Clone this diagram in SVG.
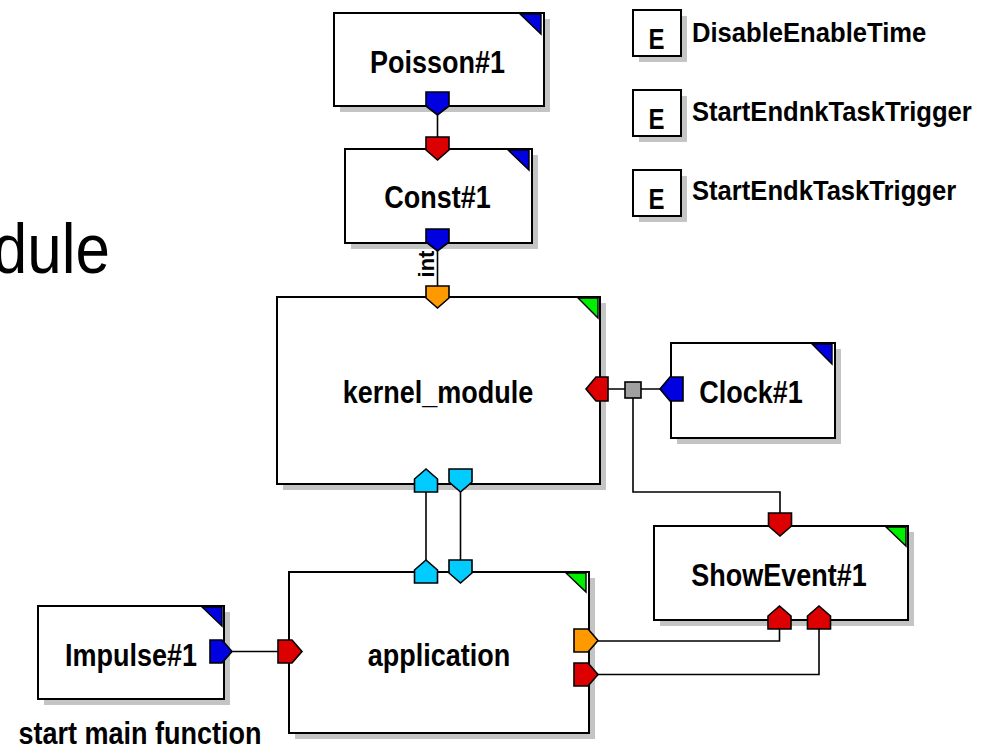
<svg xmlns="http://www.w3.org/2000/svg" width="1005" height="749" viewBox="0 0 1005 749">
<style>
.bg{fill:#fff}
.shadow{fill:#c4c4c4}
.box{fill:#fff;stroke:#000;stroke-width:2}
.wire{fill:none;stroke:#000;stroke-width:1.6}
.port{stroke:#000;stroke-width:1.6;stroke-linejoin:miter}
.tri{stroke:#000;stroke-width:1.4;stroke-linejoin:miter}
.blue{fill:#0000e0}
.red{fill:#dd0000}
.orange{fill:#ff9900}
.cyan{fill:#00ccff}
.green{fill:#00ee00}
.junc{fill:#a0a0a0;stroke:#000;stroke-width:1.6}
.lbl{font-family:"Liberation Sans",Arial,sans-serif;font-weight:bold;font-size:27px;text-anchor:middle;fill:#000}
.elbl{font-family:"Liberation Sans",Arial,sans-serif;font-weight:bold;font-size:25.6px;fill:#000}
.eletter{font-family:"Liberation Sans",Arial,sans-serif;font-weight:bold;font-size:24px;text-anchor:middle;fill:#000}
.big{font-family:"Liberation Sans",Arial,sans-serif;font-size:62px;fill:#000}
</style>
<rect class="bg" x="0" y="0" width="1005" height="749"/>
<text class="big" x="110" y="0" text-anchor="end" transform="translate(0,273) scale(1,1.15)">dule</text>

<g id="connectors">
<path class="wire" d="M437.5,115 V137"/>
<path class="wire" d="M437.5,251 V286"/>
<path class="wire" d="M426,492 V560"/>
<path class="wire" d="M460.5,492 V560"/>
<path class="wire" d="M608,389 H660"/>
<path class="wire" d="M633,398 V492 H780 V513"/>
<path class="wire" d="M779.5,629 V641 H598"/>
<path class="wire" d="M819,629 V674.5 H598"/>
<path class="wire" d="M232,651.5 H278"/>
<rect id="junction" class="junc" x="625" y="382" width="16" height="16"/>
<text class="lbl" transform="translate(434,264) rotate(-90)" style="font-size:22px">int</text>
</g>

<g id="poisson">
<rect class="shadow" x="340" y="19" width="210" height="93"/>
<rect class="box" x="334" y="13" width="210" height="93"/>
<polygon class="tri blue" points="520,14 541,14 541,34"/>
<path class="port blue" d="M426,92 h23 v14 l-11.5,9 l-11.5,-9 z"/>
<text class="lbl" transform="translate(437.5,73) scale(1,1.15)">Poisson#1</text>
</g>

<g id="const">
<rect class="shadow" x="351" y="155" width="187" height="94"/>
<rect class="box" x="345" y="149" width="187" height="94"/>
<polygon class="tri blue" points="508,150 529,150 529,170"/>
<path class="port red" d="M426,137 h23 v13 l-11.5,10 l-11.5,-10 z"/>
<path class="port blue" d="M426,229 h23 v13 l-11.5,9 l-11.5,-9 z"/>
<text class="lbl" transform="translate(437.5,208) scale(1,1.15)">Const#1</text>
</g>

<g id="kernel_module">
<rect class="shadow" x="283" y="303" width="323" height="187"/>
<rect class="box" x="277" y="297" width="323" height="187"/>
<polygon class="tri green" points="578,298 598,298 598,318"/>
<path class="port orange" d="M426,286 h23 v12 l-11.5,10 l-11.5,-10 z"/>
<path class="port cyan" d="M414.5,492 h23 v-13 l-11.5,-10 l-11.5,10 z"/>
<path class="port cyan" d="M449,469 h23 v13 l-11.5,10 l-11.5,-10 z"/>
<path class="port red" d="M586,389 l10,-12 h12 v24 h-12 z"/>
<text class="lbl" transform="translate(438,403) scale(1,1.15)">kernel_module</text>
</g>

<g id="clock">
<rect class="shadow" x="677" y="349" width="164" height="95"/>
<rect class="box" x="671" y="343" width="164" height="95"/>
<polygon class="tri blue" points="812,344 832,344 832,364"/>
<path class="port blue" d="M660,389 l10,-12 h13 v24 h-13 z"/>
<text class="lbl" transform="translate(751,403) scale(1,1.15)">Clock#1</text>
</g>

<g id="showevent">
<rect class="shadow" x="660" y="532" width="254" height="94"/>
<rect class="box" x="654" y="526" width="254" height="94"/>
<polygon class="tri green" points="886,527 906,527 906,546"/>
<path class="port red" d="M768.5,513 h23 v13 l-11.5,10 l-11.5,-10 z"/>
<path class="port red" d="M768,629 h23 v-13 l-11.5,-10 l-11.5,10 z"/>
<path class="port red" d="M807.5,629 h23 v-13 l-11.5,-10 l-11.5,10 z"/>
<text class="lbl" transform="translate(779,586) scale(1,1.15)">ShowEvent#1</text>
</g>

<g id="application">
<rect class="shadow" x="295" y="578" width="300" height="161"/>
<rect class="box" x="289" y="572" width="300" height="161"/>
<polygon class="tri green" points="566,573 586,573 586,592"/>
<path class="port cyan" d="M414.5,583 h23 v-13 l-11.5,-10 l-11.5,10 z"/>
<path class="port cyan" d="M449,560 h23 v13 l-11.5,10 l-11.5,-10 z"/>
<path class="port red" d="M302,651.5 l-10,-11.5 h-14 v23 h14 z"/>
<path class="port orange" d="M598,640.5 l-10,-11.5 h-14 v23 h14 z"/>
<path class="port red" d="M598,674.5 l-10,-11.5 h-14 v23 h14 z"/>
<text class="lbl" transform="translate(439,666) scale(1,1.15)">application</text>
</g>

<g id="impulse">
<rect class="shadow" x="44" y="612" width="186" height="93"/>
<rect class="box" x="38" y="606" width="186" height="93"/>
<polygon class="tri blue" points="202,607 222,607 222,626"/>
<path class="port blue" d="M232,651.5 l-10,-11.5 h-12 v23 h12 z"/>
<text class="lbl" transform="translate(131,666) scale(1,1.15)">Impulse#1</text>
<text class="lbl" transform="translate(140,744) scale(1,1.15)">start main function</text>
</g>

<g id="event1">
<rect class="shadow" x="639" y="16" width="48" height="46"/>
<rect class="box" x="633" y="10" width="48" height="46"/>
<text class="eletter" transform="translate(656.5,49) scale(1,1.22)">E</text>
<text class="elbl" transform="translate(692,42) scale(1,1.1)">DisableEnableTime</text>
</g>
<g id="event2">
<rect class="shadow" x="639" y="96" width="48" height="46"/>
<rect class="box" x="633" y="90" width="48" height="46"/>
<text class="eletter" transform="translate(656.5,129) scale(1,1.22)">E</text>
<text class="elbl" transform="translate(692,121) scale(1,1.1)">StartEndnkTaskTrigger</text>
</g>
<g id="event3">
<rect class="shadow" x="639" y="176" width="48" height="46"/>
<rect class="box" x="633" y="170" width="48" height="46"/>
<text class="eletter" transform="translate(656.5,209) scale(1,1.22)">E</text>
<text class="elbl" transform="translate(692,200) scale(1,1.1)">StartEndkTaskTrigger</text>
</g>
</svg>
